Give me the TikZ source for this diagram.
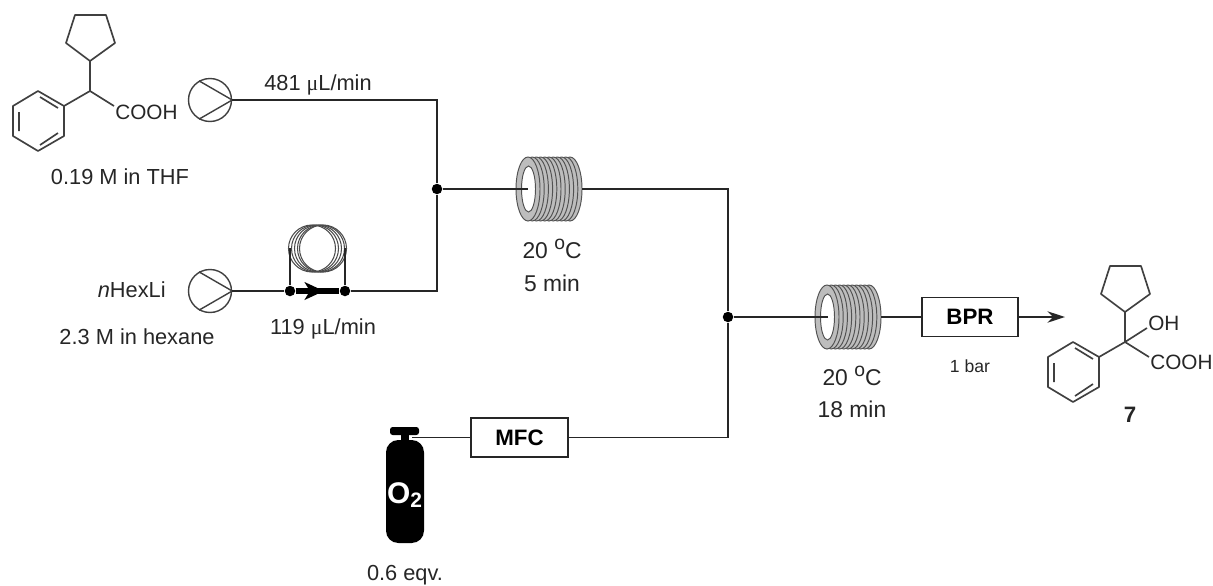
\documentclass[tikz,border=0pt]{standalone}
\usepackage{fontspec}
\setmainfont{Liberation Sans}
\newfontfamily\serfont{Liberation Serif}
\usetikzlibrary{arrows.meta}
\definecolor{coilgray}{gray}{0.74}
\definecolor{coilline}{gray}{0.32}
\definecolor{inkgray}{gray}{0.15}
\newcommand{\degsign}{{\fontsize{11}{10}\selectfont\raisebox{0.85ex}{o}}}
\tikzset{
  wire/.style={line width=0.95pt,inkgray},
  bond/.style={line width=0.95pt,black!75},
  label/.style={inner sep=0pt,text=inkgray,font=\fontsize{12.4}{14}\selectfont},
  chem/.style={label,anchor=west,font=\fontsize{11.8}{14}\selectfont},
  cond/.style={label,font=\fontsize{13}{15}\selectfont},
  pump/.style={circle,draw=black!75,line width=0.8pt,minimum size=0.86cm,inner sep=0pt},
  dot/.style={circle,fill=black,minimum size=0.21cm,inner sep=0pt},
  unit/.style={draw=black!85,line width=1.1pt,fill=white,minimum width=1.93cm,minimum height=0.78cm,inner sep=0pt,font=\fontsize{12.7}{14}\selectfont\bfseries},
  pics/coil/.style={code={
    \foreach \s in {42,37.8,...,0}
      \draw[fill=coilgray,draw=coilline,line width=0.55pt] (\s,0) ellipse (12 and 32);
    \draw[fill=white,draw=coilline,line width=0.55pt] (0.5,0) ellipse (7 and 23);
  }},
  pics/skeleton/.style={code={
    \draw[bond,line join=round] (0,-30)--(25,-48)--(16,-76)--(-15,-76)--(-24,-48)--cycle;
    \draw[bond] (0,-30)--(0,0)--(-26,15);
    \draw[bond,line join=round] (-26,15)--(-52,0)--(-77,15)--(-77,45)--(-52,60)--(-26,45)--cycle;
    \draw[bond] (-50,6)--(-32,17) (-71,21)--(-71,40) (-50,54)--(-32,42);
    \draw[bond] (0,0)--(24,15);
  }}
}
\begin{document}
\begin{tikzpicture}[x=0.02cm,y=-0.02cm]
\useasboundingbox (0,0) rectangle (1213,585);

% starting material
\pic at (90,91) {skeleton};
\node[chem] (acid) at (115,112) {COOH};
\node[label] (acidconc) at (120,177) {0.19 M in THF};

% pumps
\node[pump] (pumpa) at (210,100) {};
\node[pump] (pumpb) at (210,291) {};
\foreach \p in {pumpa,pumpb}
  \draw[line width=0.8pt,black!75] (\p.120)--(\p.east)--(\p.-120);
\node[label] (flowa) at (318,85) {481 {\serfont μ}L/min};
\node[label] (flowb) at (323,329) {119 {\serfont μ}L/min};
\node[label,anchor=east] (hexli) at (166,290) {\textit{n}HexLi};
\node[label] (hexconc) at (137,337) {2.3 M in hexane};

% small loop on the base line
\foreach \s in {312,315,318,321,323}
  \draw[line width=0.6pt,black!70] (\s,248.5) circle (23.5);
\node[dot] (loopa) at (290,291) {};
\node[dot] (loopb) at (345,291) {};
\coordinate (loopup) at (290,248);
\coordinate (loopdown) at (345,248);
\coordinate (looptip) at (324,291);
\draw[wire] (loopa)--(loopup);
\draw[wire] (loopb)--(loopdown);

% junctions and corners
\node[dot] (mixa) at (437,189) {};
\node[dot] (mixb) at (728,317) {};
\coordinate (cornera) at (437,100);
\coordinate (cornerb) at (437,291);
\coordinate (cornerc) at (728,189);
\coordinate (cornerd) at (728,437.5);

% reactors
\pic at (528,189) {coil};
\pic at (827,317) {coil};
\coordinate (coilain) at (528,189);
\coordinate (coilaout) at (582,189);
\coordinate (coilbin) at (828,317);
\coordinate (coilbout) at (881,317);
\node[cond] (tempa) at (552,249) {20 \degsign C};
\node[cond] (timea) at (552,283) {5 min};
\node[cond] (tempb) at (852,376) {20 \degsign C};
\node[cond] (timeb) at (852,409) {18 min};

% boxes
\node[unit] (mfc) at (519.5,437.5) {MFC};
\node[unit] (bpr) at (970,317) {BPR};
\node[label,font=\fontsize{10}{11}\selectfont] (barlabel) at (970,366) {1 bar};

% connectors
\draw[wire] (pumpa.east)--(cornera)--(mixa);
\draw[wire] (pumpb.east)--(loopa);
\draw[wire,line width=3pt,black] (loopa)--(loopb);
\draw[wire,line width=3pt,black,-{Stealth[length=11pt,width=10pt,inset=3pt]}] (loopa)--(looptip);
\draw[wire] (loopb)--(cornerb)--(mixa);
\draw[wire] (mixa)--(coilain);
\draw[wire] (coilaout)--(cornerc)--(mixb);
\draw[wire] (mfc.east)--(cornerd)--(mixb);
\draw[wire] (mixb)--(coilbin);
\draw[wire] (coilbout)--(bpr.west);
\coordinate (outlet) at (1065,317);
\draw[wire,-{Stealth[length=10pt,width=6.5pt]}] (bpr.east)--(outlet);

% oxygen cylinder
\fill[black,rounded corners=1.5pt] (390,427) rectangle (419,435);
\fill[black] (401,433) rectangle (409,442);
\fill[black,rounded corners=7pt] (386,440) rectangle (424,543);
\node[inner sep=0pt,text=white,font=\fontsize{17}{19}\selectfont\bfseries] (oxygen) at (405,495) {O\textsubscript{2}};
\coordinate (valve) at (412,437.5);
\draw[wire] (valve)--(mfc.west);
\node[label] (eqv) at (405,575) {0.6 eqv.};

% product
\pic at (1125,342) {skeleton};
\draw[bond] (1125,342)--(1147,328);
\node[chem] (hydroxy) at (1148,323) {OH};
\node[chem] (prodacid) at (1150,362) {COOH};
\node[label,font=\fontsize{12.7}{14}\selectfont\bfseries] (seven) at (1130,415) {7};
\end{tikzpicture}
\end{document}
